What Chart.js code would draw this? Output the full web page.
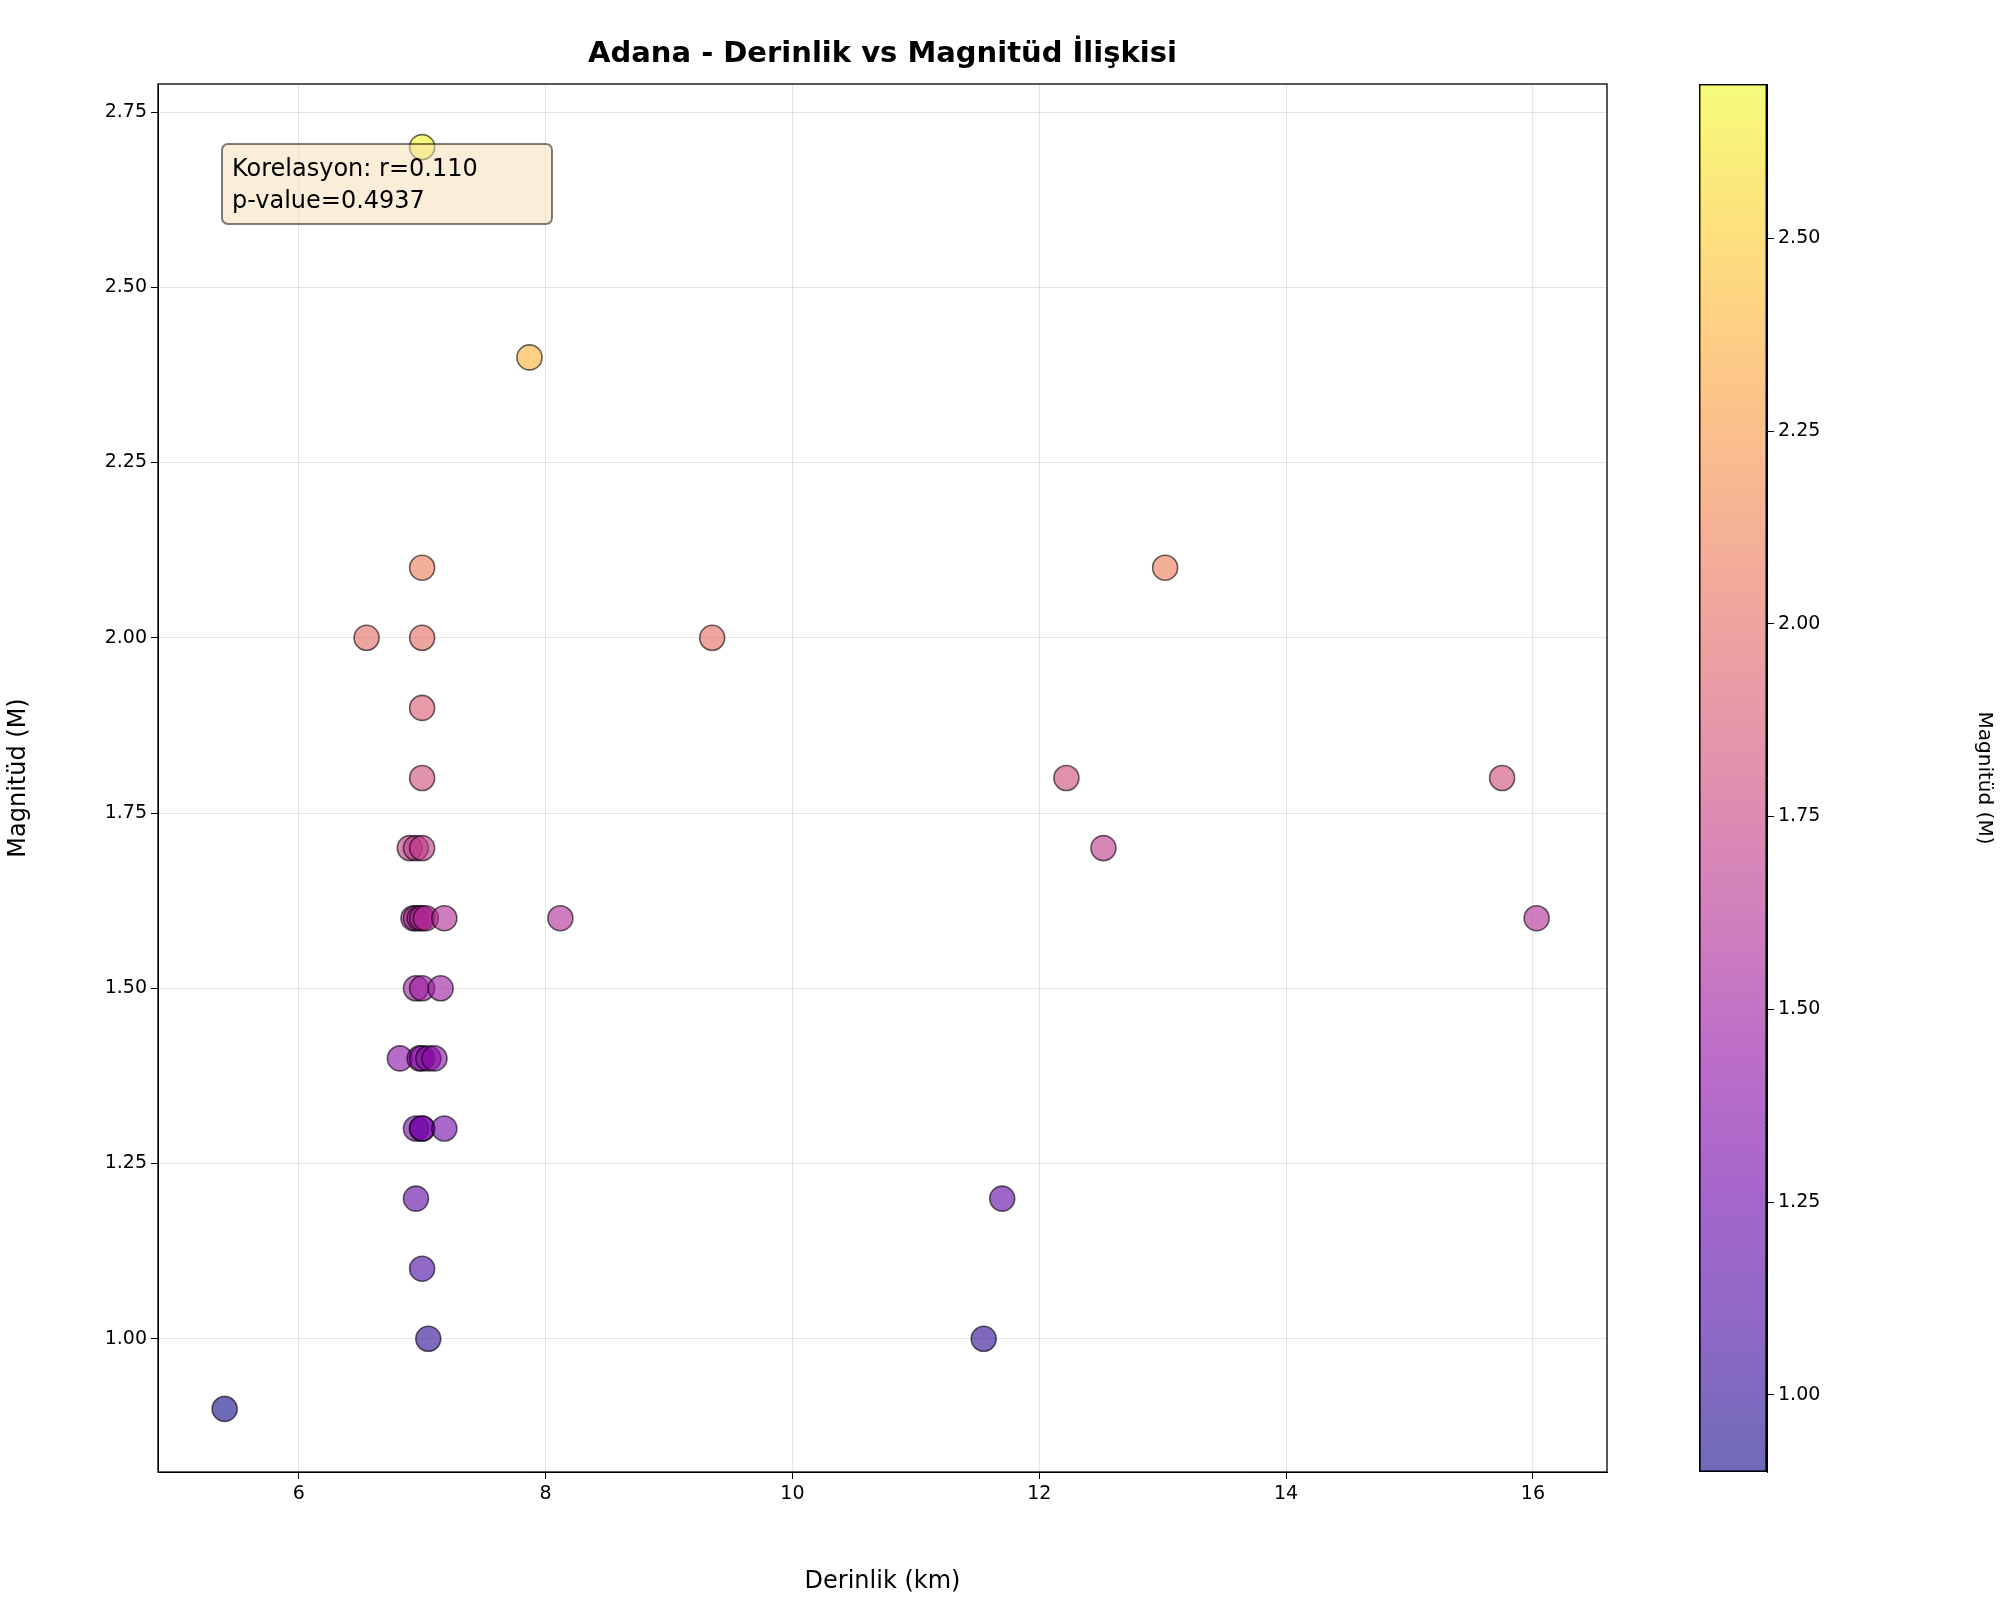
<!DOCTYPE html>
<html><head><meta charset="utf-8">
<script src="https://cdn.jsdelivr.net/npm/chart.js@4"></script>
<style>body{margin:0;background:#fff}#w{position:relative;width:2000px;height:1600px}canvas{position:absolute;left:0;top:0}</style>
</head><body><div id="w"><canvas id="c1" width="2000" height="1600"></canvas><canvas id="c2" width="2000" height="1600"></canvas></div>
<script>
const depth=[5.4,11.55,7.05,7.0,6.95,11.7,6.95,7.0,7.0,7.18,6.82,6.98,7.0,7.05,7.1,6.95,7.0,7.15,6.93,6.95,6.98,7.0,7.03,7.18,8.12,16.03,6.9,6.95,7.0,12.52,7.0,12.22,15.75,7.0,6.55,7.0,9.35,7.0,13.02,7.87,7.0];
const magnitude=[0.9,1.0,1.0,1.1,1.2,1.2,1.3,1.3,1.3,1.3,1.4,1.4,1.4,1.4,1.4,1.5,1.5,1.5,1.6,1.6,1.6,1.6,1.6,1.6,1.6,1.6,1.7,1.7,1.7,1.7,1.8,1.8,1.8,1.9,2.0,2.0,2.0,2.1,2.1,2.4,2.7];
const xTicks=[6,8,10,12,14,16];
const yTicks=[1.0,1.25,1.5,1.75,2.0,2.25,2.5,2.75];
const cbTicks=[1.0,1.25,1.5,1.75,2.0,2.25,2.5];
const plasma=[[13,8,135],[65,4,157],[106,0,168],[143,13,164],[177,42,144],[204,71,120],[225,100,98],[242,132,75],[252,166,54],[252,206,37],[240,249,33]];
function cmap(t,a){t=Math.max(0,Math.min(1,t));const f=t*10,i=Math.min(9,Math.floor(f)),r=f-i;const c=plasma[i].map((v,k)=>Math.round(v+(plasma[i+1][k]-v)*r));return `rgba(${c[0]},${c[1]},${c[2]},${a})`;}
const vmin=0.9,vmax=2.7;
const pts=depth.map((d,i)=>({x:d,y:magnitude[i]}));
const F="DejaVu Sans";
Chart.defaults.font.family=F;Chart.defaults.color="#000";
const deco={id:'deco',afterDraw(ch){const c=ch.ctx,a=ch.chartArea;c.save();
c.strokeStyle='#000';c.lineWidth=1.3;c.strokeRect(a.left,a.top,a.right-a.left,a.bottom-a.top);
c.font="bold 29px "+F;c.textAlign='center';c.fillStyle='#000';c.fillText("Adana - Derinlik vs Magnitüd İlişkisi",(a.left+a.right)/2,62);
const bx=a.left+64,by=a.top+60,bw=330,bh=80;c.fillStyle='rgba(245,222,179,0.5)';c.strokeStyle='rgba(0,0,0,0.5)';c.lineWidth=2;
c.beginPath();c.roundRect(bx,by,bw,bh,6);c.fill();c.stroke();
c.fillStyle='#000';c.font="24px "+F;c.textAlign='left';c.fillText("Korelasyon: r=0.110",bx+10,by+32);c.fillText("p-value=0.4937",bx+10,by+64);c.restore();}};
new Chart(document.getElementById('c1'),{type:'scatter',
data:{datasets:[{data:pts,pointRadius:12.5,pointHoverRadius:12.5,borderWidth:1.6,borderColor:'rgba(0,0,0,0.6)',
backgroundColor:magnitude.map(m=>cmap((m-vmin)/(vmax-vmin),0.6))}]},
options:{responsive:false,animation:false,layout:{padding:{left:0,top:84,right:393,bottom:0}},
plugins:{legend:{display:false},tooltip:{enabled:false}},
scales:{x:{type:'linear',min:4.86,max:16.6,afterBuildTicks:s=>{s.ticks=xTicks.map(v=>({value:v}))},afterFit:s=>{s.height=128},
ticks:{font:{size:19},padding:4,callback:v=>v},grid:{color:'rgba(0,0,0,0.1)',tickColor:'#000',tickLength:7},border:{color:'#000'},
title:{display:true,text:'Derinlik (km)',font:{size:24},padding:{top:2}}},
y:{min:0.81,max:2.79,afterBuildTicks:s=>{s.ticks=yTicks.map(v=>({value:v}))},afterFit:s=>{s.width=158},
ticks:{font:{size:19},padding:4,callback:v=>v.toFixed(2)},grid:{color:'rgba(0,0,0,0.1)',tickColor:'#000',tickLength:7},border:{color:'#000'},
title:{display:true,text:'Magnitüd (M)',font:{size:24}}}}},plugins:[deco]});
new Chart(document.getElementById('c2'),{type:'bar',
data:{labels:['cb'],datasets:[{data:[[vmin,vmax]],barPercentage:1,categoryPercentage:1,borderWidth:1.5,borderColor:'#000',borderSkipped:false,
backgroundColor:ctx=>{const a=ctx.chart.chartArea;if(!a)return '#888';const g=ctx.chart.ctx.createLinearGradient(0,a.bottom,0,a.top);for(let i=0;i<=10;i++)g.addColorStop(i/10,cmap(i/10,0.6));return g;}}]},
options:{responsive:false,animation:false,layout:{padding:{left:1699,top:84,right:0,bottom:128}},
plugins:{legend:{display:false},tooltip:{enabled:false}},
scales:{x:{display:false},
y:{position:'right',min:vmin,max:vmax,afterBuildTicks:s=>{s.ticks=cbTicks.map(v=>({value:v}))},afterFit:s=>{s.width=233},
ticks:{font:{size:19},padding:4,callback:v=>v.toFixed(2)},grid:{drawOnChartArea:false,tickColor:'#000',tickLength:7},border:{color:'#000'},
title:{display:true,text:'Magnitüd (M)',font:{size:20}}}}}});
</script></body></html>
